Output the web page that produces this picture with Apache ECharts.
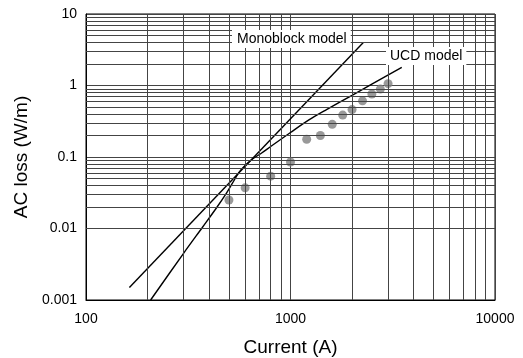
<!DOCTYPE html>
<html>
<head>
<meta charset="utf-8">
<script src="https://cdn.jsdelivr.net/npm/echarts@6/dist/echarts.min.js"></script>
<style>
html,body{margin:0;padding:0;background:#fff;}
#chart{width:523px;height:358px;}
</style>
</head>
<body>
<div id="chart"></div>
<script>
// ---- data ----
const currentTicks = [100, 1000, 10000];
const lossTicks = [0.001, 0.01, 0.1, 1, 10];
const measuredCurrent = [500, 600, 800, 1000, 1200, 1400, 1600, 1800, 2000, 2250, 2500, 2750, 3000];
const measuredLoss = [0.025, 0.037, 0.054, 0.085, 0.177, 0.2, 0.286, 0.386, 0.46, 0.61, 0.76, 0.89, 1.06];
const monoblockCurrent = [163, 2270];
const monoblockLoss = [0.0015, 4.0];
const ucdCurrent = [207, 300, 372, 435, 480, 520, 560, 600, 650, 720, 800, 1000, 1230, 1500, 2000, 3500];
const ucdLoss = [0.001, 0.0045, 0.0105, 0.0195, 0.0295, 0.043, 0.061, 0.076, 0.093, 0.113, 0.14, 0.22, 0.33, 0.46, 0.73, 1.79];
const labelMonoblock = 'Monoblock model';
const labelUCD = 'UCD model';

// ---- helpers ----
function zip(a, b) { return a.map((v, i) => [v, b[i]]); }
function minorValues(lo, hi) {
  const out = [];
  for (let d = lo; d < hi; d *= 10) {
    for (let k = 2; k <= 9; k++) out.push(+(d * k).toPrecision(3));
  }
  return out;
}
function tickLabel(ticks) {
  return function (v) {
    let best = ticks[0];
    ticks.forEach(t => { if (Math.abs(Math.log10(t) - Math.log10(v)) < Math.abs(Math.log10(best) - Math.log10(v))) best = t; });
    return String(best);
  };
}
const gridColor = '#444';
const xMinor = minorValues(100, 10000);
const yMinor = minorValues(0.001, 10);
const gridMarks = []
  .concat(xMinor.map(v => ({ xAxis: v })))
  .concat(yMinor.map(v => ({ yAxis: v })));

const chart = echarts.init(document.getElementById('chart'), null, { renderer: 'canvas' });
const font = 'Liberation Sans, Arial, sans-serif';
chart.setOption({
  animation: false,
  backgroundColor: '#fff',
  grid: { left: 86, right: 28, top: 14, bottom: 58, show: true, borderColor: '#000', borderWidth: 1, containLabel: false, outerBoundsMode: 'none' },
  xAxis: {
    type: 'log', logBase: 10, min: 100, max: 10000, interval: 1,
    name: 'Current (A)', nameLocation: 'middle', nameGap: 38,
    nameTextStyle: { fontFamily: font, fontSize: 19, color: '#000' },
    axisLine: { show: true, lineStyle: { color: '#000', width: 1 } },
    axisTick: { show: false },
    axisLabel: { margin: 12, fontFamily: font, fontSize: 14, color: '#000', formatter: tickLabel(currentTicks) },
    splitLine: { show: true, lineStyle: { color: gridColor, width: 1 } },
    minorTick: { show: false }, minorSplitLine: { show: false }
  },
  yAxis: {
    type: 'log', logBase: 10, min: 0.001, max: 10, interval: 1,
    name: 'AC loss (W/m)', nameLocation: 'middle', nameGap: 45, nameRotate: 90,
    nameTextStyle: { fontFamily: font, fontSize: 19, color: '#000' },
    axisLine: { show: true, lineStyle: { color: '#000', width: 1 } },
    axisTick: { show: false },
    axisLabel: { margin: 9, fontFamily: font, fontSize: 14, color: '#000', formatter: tickLabel(lossTicks) },
    splitLine: { show: true, lineStyle: { color: gridColor, width: 1 } }
  },
  series: [
    {
      name: 'grid', type: 'line', data: [[100, 0.001]], symbol: 'none', lineStyle: { opacity: 0 }, silent: true, z: 1,
      markLine: {
        silent: true, symbol: ['none', 'none'], label: { show: false },
        lineStyle: { color: gridColor, width: 1, type: 'solid' },
        emphasis: { disabled: true },
        data: gridMarks
      }
    },
    {
      name: labelMonoblock, type: 'line', data: zip(monoblockCurrent, monoblockLoss),
      symbol: 'none', lineStyle: { color: '#000', width: 1.4 }, z: 3
    },
    {
      name: labelUCD, type: 'line', data: zip(ucdCurrent, ucdLoss),
      symbol: 'none', smooth: 0.3, lineStyle: { color: '#000', width: 1.4 }, z: 3
    },
    {
      name: 'Measured', type: 'scatter', data: zip(measuredCurrent, measuredLoss),
      symbol: 'circle', symbolSize: 9, itemStyle: { color: '#808080' }, z: 4
    }
  ],
  graphic: [
    {
      type: 'text', left: 232, top: 30, z: 100,
      style: { text: labelMonoblock, font: '14px ' + font, fill: '#000', backgroundColor: '#fff', padding: [2, 4, 2, 5] }
    },
    {
      type: 'text', left: 386, top: 47, z: 100,
      style: { text: labelUCD, font: '14px ' + font, fill: '#000', backgroundColor: '#fff', padding: [2, 4, 2, 4] }
    }
  ]
});
</script>
</body>
</html>
